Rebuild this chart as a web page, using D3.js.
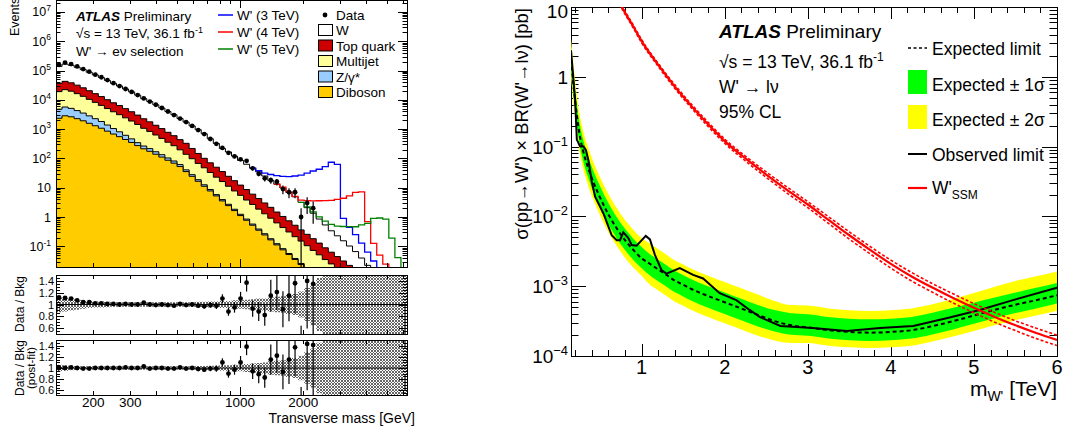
<!DOCTYPE html>
<html>
<head>
<meta charset="utf-8">
<script src="https://cdn.jsdelivr.net/npm/d3@7"></script>
<style>
  body { margin: 0; background: #fff; }
  svg text { font-family: "Liberation Sans", Arial, Helvetica, sans-serif; fill: #000; }
</style>
</head>
<body>
<svg id="chart" width="1067" height="433"></svg>
<script>
// ---- left panel: transverse mass, W' -> e nu selection ----
const binEdges = [133, 142.1, 151.9, 162.3, 173.4, 185.3, 198.0, 211.6, 226.1, 241.6, 258.2, 275.9, 294.8, 315.1, 336.7,
  359.8, 384.5, 410.8, 439.0, 469.1, 501.3, 535.7, 572.4, 611.7, 653.7, 698.5, 746.4, 797.6, 852.4, 910.9, 973.4, 1040,
  1111, 1188, 1269, 1356, 1449, 1549, 1655, 1769, 1890, 2020, 2158, 2306, 2464, 2633, 2814, 3007, 3213, 3434, 3669, 3921,
  4190, 4478, 4785, 5113, 5464, 5839, 6240];

const bkgW = [101700, 123300, 113400, 97260, 81440, 66720, 54580, 44650, 35610, 28390, 23140, 18450, 14710, 11450, 8706,
  6942, 5409, 4209, 3201, 2494, 1853, 1410, 1069, 807, 591, 397, 273.5, 183.3, 141.5, 102.8, 72.8, 54.4, 40.8, 30.4, 22.1,
  15.7, 11.7, 8.72, 6.18, 4.37, 2.80, 1.83, 1.167, 0.722, 0.448, 0.276, 0.184, 0.123, 0.080, 0.0506, 0.0288, 0.0146,
  0.0071, 0.004, 0.002, 0.001, 0.0006, 0.0003];
const bkgTop = [17250, 20430, 18330, 15370, 12540, 10045, 8028, 6428, 5088, 4018, 3254, 2575, 2033, 1572, 1188, 938, 724,
  560, 423, 325, 240, 190, 121, 80.3, 53.0, 37.7, 27.2, 19.3, 13.3, 9.64, 6.8, 4.91, 3.34, 2.41, 1.73, 1.23, 0.848, 0.61,
  0.432, 0.311, 0.212, 0.152, 0.110, 0.0777, 0.0536, 0.038, 0.0273, 0.0193, 0.0139, 0.0095, 0.0068, 0.0049, 0.0035,
  0.002, 0.001, 0.0006, 0.0003, 0.0002];
const bkgMultijet = [14270, 16560, 14580, 11960, 9614, 7543, 5918, 4636, 3647, 2865, 2303, 1813, 1419, 1091, 801, 617, 461,
  347, 253, 190, 135, 97.3, 69.8, 48.8, 35.3, 24.4, 17.1, 12.3, 8.5, 5.92, 4.25, 2.95, 2.12, 1.47, 1.02, 0.73, 0.508,
  0.354, 0.252, 0.175, 0.125, 0.0874, 0.0604, 0.0432, 0.0299, 0.0214, 0.0149, 0.0106, 0.0073, 0.0053, 0.0037, 0.0026,
  0.0018, 0.001, 0.0006, 0.0003, 0.0002, 0.0001];
const bkgZ = [2440, 2826, 2471, 2014, 1607, 1251, 967, 748, 525, 366, 256, 173, 114, 71, 52, 41, 30, 23, 16.8, 12.7, 8.9,
  5.2, 3.4, 2.2, 1.4, 0.95, 0.57, 0.39, 0.27, 0.18, 0.12, 0.075, 0.05, 0.034, 0.024, 0.016, 0.011, 0.0073, 0.0044, 0.003,
  0.002, 0.0014, 0.0008, 0.0005, 0.0003, 0.0002, 0.00015, 0.0001, 0.00007, 0.00005, 0.00003, 0.00002, 0.00001, 0, 0, 0,
  0, 0];
const bkgDiboson = [2344, 2851, 2636, 2270, 1923, 1581, 1303, 1072, 853, 679, 553, 442, 351, 274, 213, 175, 139, 111, 86.7,
  69.0, 52.7, 35.5, 24.5, 16.6, 11.2, 7.76, 5.25, 3.55, 2.45, 1.66, 1.12, 0.776, 0.525, 0.355, 0.245, 0.166, 0.112, 0.0759,
  0.0525, 0.0355, 0.024, 0.0162, 0.0112, 0.0076, 0.0051, 0.0035, 0.0023, 0.0016, 0.0011, 0.0007, 0.0005, 0.0003, 0.0002,
  0.0001, 0.0001, 0.00005, 0.00003, 0.00002];

// W' signals (events on top of the background), first bin index + values
const sig3Start = 33;
const sig3TeV = [3.3, 6.5, 10.4, 12.5, 14.7, 17.1, 20.2, 23.7, 29.5, 35.8, 41.8, 52.0, 73.8, 62.9, 0.74, 0.345, 0.185,
  0.089, 0.041, 0.019, 0.0087, 0.003];
const sig4Start = 37;
const sig4TeV = [0.7, 0.3, 0.2, 0.64, 1.54, 2.20, 2.74, 3.09, 3.38, 3.75, 4.21, 5.15, 6.85, 7.20, 0.67, 0.113, 0.043,
  0.021, 0.0105];
const sig5Start = 41;
const sig5TeV = [0.12, 0.14, 0.16, 0.19, 0.22, 0.26, 0.32, 0.37, 0.40, 0.50, 0.58, 0.88, 0.92, 0.85, 0.19, 0.04, 0.012];

const dataCounts = [155000, 186000, 166000, 138000, 112000, 91000, 72000, 59000, 47000, 37000, 29500, 23400, 18600, 14500,
  11200, 8700, 6800, 5250, 4000, 3020, 2290, 1740, 1290, 930, 680, 460, 316, 229, 155, 117, 93, 83, 46, 30, 21, 18, 16, 9,
  7, 7, 1, 3, 2];
const ratioPre = [1.12, 1.11, 1.10, 1.07, 1.04, 1.04, 1.02, 1.02, 1.01, 1.01, 1.00, 1.01, 1.00, 1.00, 1.03, 1.00, 0.99,
  1.00, 0.99, 0.98, 1.01, 0.99, 1.00, 0.98, 0.97, 0.99, 0.98, 1.10, 0.88, 0.95, 1.10, 1.37, 0.93, 0.88, 0.82, 1.15, 1.21,
  0.92, 1.15, 1.36, 0.32, 1.40, 1.35];
const ratioPost = [1.00, 1.00, 1.01, 1.00, 0.99, 0.99, 1.00, 1.00, 1.00, 1.00, 1.00, 1.01, 1.00, 1.00, 1.03, 0.99, 1.00,
  1.00, 0.99, 0.99, 1.01, 0.99, 1.00, 0.98, 0.97, 0.99, 0.99, 1.10, 0.90, 0.97, 1.10, 1.38, 0.94, 0.89, 0.83, 1.15, 1.22,
  0.93, 1.15, 1.37, 0.33, 1.43, 1.41];
const sysPre = [0.13, 0.12, 0.10, 0.09, 0.07, 0.06, 0.05, 0.05, 0.045, 0.04, 0.04, 0.04, 0.04, 0.04, 0.04, 0.04, 0.04,
  0.04, 0.04, 0.04, 0.04, 0.04, 0.04, 0.045, 0.045, 0.05, 0.05, 0.06, 0.06, 0.07, 0.07, 0.08, 0.09, 0.10, 0.10, 0.12, 0.13,
  0.14, 0.16, 0.18, 0.22, 0.28, 0.35, 0.45, 0.55, 0.6, 0.7, 0.7, 0.7, 0.7, 0.7, 0.7, 0.7, 0.7, 0.7, 0.7, 0.7, 0.7];
const sysPost = [0.06, 0.05, 0.04, 0.035, 0.03, 0.03, 0.03, 0.03, 0.03, 0.03, 0.03, 0.03, 0.03, 0.03, 0.03, 0.03, 0.03,
  0.03, 0.03, 0.03, 0.03, 0.03, 0.03, 0.035, 0.035, 0.04, 0.04, 0.05, 0.05, 0.06, 0.06, 0.07, 0.08, 0.09, 0.10, 0.12, 0.13,
  0.14, 0.16, 0.18, 0.22, 0.28, 0.35, 0.45, 0.55, 0.6, 0.7, 0.7, 0.7, 0.7, 0.7, 0.7, 0.7, 0.7, 0.7, 0.7, 0.7, 0.7];

const massTickLabels = [200, 300, 1000, 2000];
const ratioTickLabels = [0.6, 0.8, 1, 1.2, 1.4];

// ---- right panel: cross-section limits ----
const limMass = [0.15, 0.2, 0.25, 0.3, 0.35, 0.4, 0.5, 0.6, 0.7, 0.8, 0.9, 1.0, 1.1, 1.2, 1.3, 1.4, 1.5, 1.6, 1.8, 2.0,
  2.2, 2.4, 2.6, 2.8, 3.0, 3.25, 3.5, 3.75, 4.0, 4.25, 4.5, 4.75, 5.0, 5.25, 5.5, 5.75, 6.0];
const expLimit = [1.78, 0.447, 0.158, 0.0832, 0.0525, 0.0355, 0.0186, 0.0107, 0.00676, 0.00457, 0.00331, 0.00251, 0.00209,
  0.00174, 0.00145, 0.00120, 0.00105, 0.000912, 0.000724, 0.000589, 0.000479, 0.000389, 0.000316, 0.000275, 0.000257,
  0.000234, 0.000221, 0.000216, 0.000221, 0.000234, 0.000268, 0.000316, 0.000380, 0.000458, 0.000543, 0.000631, 0.000741];
const expMinus2 = [1.00, 0.250, 0.0885, 0.0466, 0.0294, 0.0199, 0.0104, 0.00599, 0.00379, 0.00256, 0.00185, 0.00141,
  0.00105, 0.00087, 0.000725, 0.00060, 0.000525, 0.000456, 0.000362, 0.000295, 0.000240, 0.000195, 0.000167, 0.000154,
  0.000154, 0.000140, 0.000133, 0.000130, 0.000133, 0.000140, 0.000161, 0.000190, 0.000228, 0.000275, 0.000326, 0.000379,
  0.000445];
const expMinus1 = [1.28, 0.322, 0.114, 0.0599, 0.0378, 0.0256, 0.0134, 0.00770, 0.00487, 0.00329, 0.00238, 0.00181,
  0.00142, 0.00118, 0.000986, 0.000816, 0.000714, 0.000620, 0.000492, 0.000401, 0.000326, 0.000265, 0.000224, 0.000201,
  0.000195, 0.000178, 0.000168, 0.000164, 0.000168, 0.000178, 0.000204, 0.000240, 0.000289, 0.000348, 0.000413, 0.000480,
  0.000563];
const expPlus1 = [2.58, 0.648, 0.229, 0.121, 0.0761, 0.0515, 0.0270, 0.0155, 0.00980, 0.00663, 0.00480, 0.00364, 0.00288,
  0.00240, 0.00200, 0.00166, 0.00145, 0.00126, 0.000999, 0.000813, 0.000661, 0.000537, 0.000455, 0.000410, 0.000398,
  0.000363, 0.000343, 0.000335, 0.000343, 0.000363, 0.000415, 0.000490, 0.000580, 0.000690, 0.000810, 0.000947, 0.00111];
const expPlus2 = [3.47, 0.872, 0.308, 0.162, 0.102, 0.0692, 0.0363, 0.0209, 0.0132, 0.00891, 0.00645, 0.00489, 0.00408,
  0.00339, 0.00283, 0.00234, 0.00205, 0.00178, 0.00141, 0.00115, 0.000934, 0.000759, 0.000616, 0.000536, 0.000527,
  0.000480, 0.000453, 0.000443, 0.000453, 0.000480, 0.000550, 0.000655, 0.000800, 0.000985, 0.00119, 0.00139, 0.00163];

const obsMass = [0.15, 0.2, 0.22, 0.26, 0.3, 0.33, 0.36, 0.4, 0.44, 0.54, 0.64, 0.7, 0.74, 0.78, 0.84, 0.88, 0.94, 1.05,
  1.1, 1.16, 1.24, 1.3, 1.46, 1.62, 1.74, 1.94, 2.14, 2.3, 2.42, 2.67, 3.06, 3.47, 3.87, 4.27, 4.67, 5.07, 5.47, 6.0];
const obsLimit = [2.40, 0.468, 0.126, 0.100, 0.100, 0.0891, 0.0631, 0.0316, 0.0191, 0.0110, 0.00537, 0.00457, 0.00457,
  0.00589, 0.00490, 0.00389, 0.00380, 0.00525, 0.00468, 0.00282, 0.00170, 0.00151, 0.00182, 0.00145, 0.00129, 0.000794,
  0.000631, 0.000457, 0.000363, 0.000269, 0.000251, 0.000229, 0.000251, 0.000269, 0.000347, 0.000457, 0.000631, 0.000955];

const ssmMass = [0.7, 0.8, 0.9, 1.0, 1.2, 1.4, 1.6, 1.8, 2.0, 2.25, 2.5, 2.75, 3.0, 3.25, 3.5, 3.75, 4.0, 4.25, 4.5, 4.75,
  5.0, 5.25, 5.5, 5.75, 6.0];
const ssmXsec = [13.5, 8.32, 5.25, 3.24, 1.48, 0.724, 0.380, 0.209, 0.120, 0.0676, 0.0398, 0.0240, 0.0148, 0.00891,
  0.00537, 0.00331, 0.00209, 0.00138, 0.000955, 0.000676, 0.000490, 0.000363, 0.000275, 0.000214, 0.000170];
const ssmRelUnc = [0.05, 0.05, 0.05, 0.05, 0.05, 0.06, 0.06, 0.07, 0.07, 0.08, 0.09, 0.10, 0.10, 0.11, 0.12, 0.12, 0.13,
  0.14, 0.14, 0.15, 0.15, 0.16, 0.16, 0.17, 0.17];
const limTickLabels = [1, 2, 3, 4, 5, 6];

// ================= drawing =================
const svg = d3.select('#chart');
const defs = svg.append('defs');
const addClip = (id, x, y, w, h) => defs.append('clipPath').attr('id', id)
  .append('rect').attr('x', x).attr('y', y).attr('width', w).attr('height', h);
addClip('clipMain', 56, 0, 351, 267);
addClip('clipR1', 56, 275, 351, 59);
addClip('clipR2', 56, 340, 351, 55);
addClip('clipLim', 571, 7, 486, 349);

const hatch = defs.append('pattern').attr('id', 'hatch').attr('patternUnits', 'userSpaceOnUse')
  .attr('width', 3).attr('height', 3);
hatch.append('path').attr('d', 'M0,3L3,0M0,0L3,3').attr('stroke', '#555').attr('stroke-width', 0.9);

const xL = d3.scaleLog().domain([133, 6240]).range([56, 407]);
const yMain = d3.scaleLog().domain([0.0197, 2.55e7]).range([267, 0]);
const yR1 = d3.scaleLinear().domain([0.5, 1.5]).range([334, 275]);
const yR2 = d3.scaleLinear().domain([0.5, 1.5]).range([396, 340]);
const ySafe = v => yMain(Math.max(v, 1e-4));
const nBins = binEdges.length - 1;

const bins = d3.range(nBins).map(i => ({
  Diboson: bkgDiboson[i], Zgamma: bkgZ[i], Multijet: bkgMultijet[i], Top: bkgTop[i], W: bkgW[i]
}));
const layers = d3.stack().keys(['Diboson', 'Zgamma', 'Multijet', 'Top', 'W'])(bins);
const fills = { Diboson: '#ffcc00', Zgamma: '#99ccff', Multijet: '#ffff99', Top: '#cc0000', W: '#ffffff' };

function steps(vals, first) {
  const pts = [];
  vals.forEach((v, k) => {
    const i = k + (first || 0);
    pts.push([binEdges[i], v], [binEdges[i + 1], v]);
  });
  return pts;
}

const gMain = svg.append('g').attr('clip-path', 'url(#clipMain)');
layers.slice().reverse().forEach(layer => {
  gMain.append('path')
    .datum(steps(layer.map(d => d[1])))
    .attr('d', d3.area().x(p => xL(p[0])).y0(268).y1(p => ySafe(p[1])))
    .attr('fill', fills[layer.key]).attr('stroke', '#000').attr('stroke-width', 1);
});

const total = layers[layers.length - 1].map(d => d[1]);
[[sig3Start, sig3TeV, '#0000ff'], [sig4Start, sig4TeV, '#ff0000'], [sig5Start, sig5TeV, '#008000']]
  .forEach(([start, vals, col]) => {
    const sums = [total[start - 1]].concat(vals.map((s, k) => total[start + k] + s));
    gMain.append('path')
      .datum(steps(sums, start - 1))
      .attr('d', d3.line().x(p => xL(p[0])).y(p => ySafe(p[1])))
      .attr('fill', 'none').attr('stroke', col).attr('stroke-width', 1.3);
  });

const binCenter = i => Math.sqrt(binEdges[i] * binEdges[i + 1]);
const gData = svg.append('g').attr('clip-path', 'url(#clipMain)');
gData.selectAll('line').data(dataCounts).join('line')
  .attr('x1', (n, i) => xL(binCenter(i))).attr('x2', (n, i) => xL(binCenter(i)))
  .attr('y1', n => ySafe(n + Math.sqrt(n))).attr('y2', n => ySafe(n - Math.sqrt(n)))
  .attr('stroke', '#000').attr('stroke-width', 1.2);
gData.selectAll('circle').data(dataCounts).join('circle')
  .attr('cx', (n, i) => xL(binCenter(i))).attr('cy', n => yMain(n)).attr('r', 2.4).attr('fill', '#000');

// ratio panels
function ratioPanel(yS, clipId, ratios, sys) {
  const g = svg.append('g').attr('clip-path', `url(#${clipId})`);
  const up = steps(sys.map(s => 1 + s)), dn = steps(sys.map(s => 1 - s));
  g.append('path').datum(up.map((p, k) => [p[0], p[1], dn[k][1]]))
    .attr('d', d3.area().x(p => xL(p[0])).y0(p => yS(p[2])).y1(p => yS(p[1])))
    .attr('fill', 'url(#hatch)');
  g.append('line').attr('x1', 56).attr('x2', 407).attr('y1', yS(1)).attr('y2', yS(1))
    .attr('stroke', '#000').attr('stroke-width', 1.2);
  g.selectAll('line.err').data(ratios).join('line').attr('class', 'err')
    .attr('x1', (r, i) => xL(binCenter(i))).attr('x2', (r, i) => xL(binCenter(i)))
    .attr('y1', (r, i) => yS(r + r / Math.sqrt(dataCounts[i])))
    .attr('y2', (r, i) => yS(r - r / Math.sqrt(dataCounts[i])))
    .attr('stroke', '#000').attr('stroke-width', 1.2);
  g.selectAll('circle').data(ratios).join('circle')
    .attr('cx', (r, i) => xL(binCenter(i))).attr('cy', r => yS(r)).attr('r', 2.4).attr('fill', '#000');
}
ratioPanel(yR1, 'clipR1', ratioPre, sysPre);
ratioPanel(yR2, 'clipR2', ratioPost, sysPost);

// frames and ticks, left panel
const axes = svg.append('g').attr('stroke', '#000').attr('stroke-width', 1).attr('fill', 'none');
const frame = (x0, y0, x1, y1) => axes.append('rect').attr('x', x0 + 0.5).attr('y', y0 + 0.5)
  .attr('width', x1 - x0).attr('height', y1 - y0);
const tick = (x1, y1, x2, y2) => axes.append('line').attr('x1', x1).attr('y1', y1).attr('x2', x2).attr('y2', y2);
frame(56, 0, 407, 267);
frame(56, 275, 407, 334);
frame(56, 340, 407, 395);

yMain.ticks(20).forEach(v => {
  const major = Math.abs(Math.log10(v) - Math.round(Math.log10(v))) < 1e-6;
  const y = Math.round(yMain(v)) + 0.5, len = major ? 9 : 4.5;
  tick(56, y, 56 + len, y); tick(407, y, 407 - len, y);
});
[[0, 267], [275, 334], [340, 395]].forEach(([top, bot]) => {
  xL.ticks().forEach(v => {
    const x = Math.round(xL(v)) + 0.5, len = v === 1000 ? 8 : 4;
    tick(x, bot, x, bot - len); tick(x, top, x, top + len);
  });
});
[[yR1], [yR2]].forEach(([yS]) => {
  d3.range(0.55, 1.5, 0.05).forEach(v => {
    const major = Math.abs(v * 5 - Math.round(v * 5)) < 1e-6;
    const y = Math.round(yS(v)) + 0.5, len = major ? 8 : 4;
    tick(56, y, 56 + len, y); tick(407, y, 407 - len, y);
  });
});

// left panel labels
const txt = (x, y, size, s) => svg.append('text').attr('x', x).attr('y', y).attr('font-size', size).text(s || '');
function powLabel(x, y, size, v, minus, anchor) {
  const k = Math.round(Math.log10(v));
  const t = svg.append('text').attr('x', x).attr('y', y).attr('font-size', size).attr('text-anchor', anchor || 'end');
  if (k === 0) t.text('1');
  else if (k === 1) t.text('10');
  else {
    t.append('tspan').text('10');
    t.append('tspan').attr('dy', -size * 0.42).attr('font-size', size * 0.68).text(k < 0 ? minus + (-k) : k);
  }
}
d3.range(-1, 8).forEach(k => powLabel(51, yMain(Math.pow(10, k)) + 4.5, 12.5, Math.pow(10, k), '-'));
ratioTickLabels.forEach(v => txt(54, yR1(v) + 4, 11, v).attr('text-anchor', 'end'));
ratioTickLabels.forEach(v => txt(54, yR2(v) + 4, 11, v).attr('text-anchor', 'end'));
massTickLabels.forEach(v => txt(xL(v), 407, 13.5, v).attr('text-anchor', 'middle'));
txt(415, 423, 14, 'Transverse mass [GeV]').attr('text-anchor', 'end');
svg.append('text').attr('transform', 'translate(19,36) rotate(-90)').attr('font-size', 12.5).text('Events');
svg.append('text').attr('transform', 'translate(24,304) rotate(-90)').attr('font-size', 12)
  .attr('text-anchor', 'middle').text('Data / Bkg');
svg.append('text').attr('transform', 'translate(24,368) rotate(-90)').attr('font-size', 12)
  .attr('text-anchor', 'middle').text('Data / Bkg');
svg.append('text').attr('transform', 'translate(35,368) rotate(-90)').attr('font-size', 11.5)
  .attr('text-anchor', 'middle').text('(post-fit)');

const atlasL = txt(76, 21, 13.5);
atlasL.append('tspan').attr('font-weight', 'bold').attr('font-style', 'italic').text('ATLAS');
atlasL.append('tspan').text(' Preliminary');
const lumiL = txt(76, 38, 13.5);
lumiL.append('tspan').text('\u221As = 13 TeV, 36.1 fb');
lumiL.append('tspan').attr('dy', -5).attr('font-size', 9).text('-1');
txt(76, 56, 13.5, 'W\' \u2192 e\u03bd selection');

[['W\' (3 TeV)', '#0000ff', 15], ['W\' (4 TeV)', '#ff0000', 32], ['W\' (5 TeV)', '#008000', 49]].forEach(([s, c, y]) => {
  svg.append('line').attr('x1', 218).attr('x2', 233).attr('y1', y).attr('y2', y)
    .attr('stroke', c).attr('stroke-width', 1.5);
  txt(237, y + 5, 13.5, s);
});
svg.append('circle').attr('cx', 325).attr('cy', 15).attr('r', 2.4).attr('fill', '#000');
txt(336, 20, 13.5, 'Data');
[['W', 'W', 30], ['Top quark', 'Top', 45.5], ['Multijet', 'Multijet', 61], ['Z/\u03b3*', 'Zgamma', 76.5],
  ['Diboson', 'Diboson', 92]].forEach(([s, key, y]) => {
  svg.append('rect').attr('x', 318.5).attr('y', y - 5.5).attr('width', 14).attr('height', 11)
    .attr('fill', fills[key]).attr('stroke', '#000').attr('stroke-width', 1);
  txt(336, y + 5, 13.5, s);
});

// ================= right panel =================
const xR = d3.scaleLinear().domain([0.15, 6]).range([571, 1057]);
const yR = d3.scaleLog().domain([1e-4, 10]).range([356, 7]);
const gLim = svg.append('g').attr('clip-path', 'url(#clipLim)');
const band = (lo, hi, col) => gLim.append('path').datum(limMass.map((m, i) => [m, lo[i], hi[i]]))
  .attr('d', d3.area().x(p => xR(p[0])).y0(p => yR(p[1])).y1(p => yR(p[2])).curve(d3.curveMonotoneX))
  .attr('fill', col);
band(expMinus2, expPlus2, '#ffff00');
band(expMinus1, expPlus1, '#00ff00');
const limLine = d3.line().x(p => xR(p[0])).y(p => yR(p[1]));
gLim.append('path').datum(limMass.map((m, i) => [m, expLimit[i]]))
  .attr('d', limLine.curve(d3.curveMonotoneX)).attr('fill', 'none').attr('stroke', '#000')
  .attr('stroke-width', 2).attr('stroke-dasharray', '4,3');
gLim.append('path').datum(obsMass.map((m, i) => [m, obsLimit[i]]))
  .attr('d', d3.line().x(p => xR(p[0])).y(p => yR(p[1]))).attr('fill', 'none').attr('stroke', '#000')
  .attr('stroke-width', 2);
[-1, 1].forEach(sgn => {
  gLim.append('path').datum(ssmMass.map((m, i) => [m, ssmXsec[i] * (1 + sgn * ssmRelUnc[i])]))
    .attr('d', d3.line().x(p => xR(p[0])).y(p => yR(p[1])).curve(d3.curveMonotoneX))
    .attr('fill', 'none').attr('stroke', '#ff0000').attr('stroke-width', 1.6).attr('stroke-dasharray', '3,2');
});
gLim.append('path').datum(ssmMass.map((m, i) => [m, ssmXsec[i]]))
  .attr('d', d3.line().x(p => xR(p[0])).y(p => yR(p[1])).curve(d3.curveMonotoneX))
  .attr('fill', 'none').attr('stroke', '#ff0000').attr('stroke-width', 2.2);

frame(571, 7, 1057, 356);
yR.ticks().forEach(v => {
  const major = Math.abs(Math.log10(v) - Math.round(Math.log10(v))) < 1e-6;
  const y = Math.round(yR(v)) + 0.5, len = major ? 15 : 7.5;
  tick(571, y, 571 + len, y); tick(1057, y, 1057 - len, y);
});
d3.range(0.2, 6.01, 0.2).forEach(v => {
  const major = Math.abs(v - Math.round(v)) < 1e-6;
  const x = Math.round(xR(v)) + 0.5, len = major ? 12 : 6;
  tick(x, 356, x, 356 - len); tick(x, 7, x, 7 + len);
});
d3.range(-4, 2).forEach(k => powLabel(568, Math.max(yR(Math.pow(10, k)) + 7, 18), 19, Math.pow(10, k), '\u2212'));
limTickLabels.forEach(v => txt(xR(v), 374, 20, v).attr('text-anchor', 'middle'));
const xlab = txt(1057, 396, 21).attr('text-anchor', 'end');
xlab.append('tspan').text('m');
xlab.append('tspan').attr('dy', 5).attr('font-size', 14).text('W\'');
xlab.append('tspan').attr('dy', -5).text(' [TeV]');
svg.append('text').attr('transform', 'translate(528,8) rotate(-90)').attr('font-size', 18.5)
  .attr('text-anchor', 'end').text('\u03c3(pp\u2192W\') \u00d7 BR(W\'\u2192l\u03bd) [pb]');

const atlasR = txt(719, 38, 19);
atlasR.append('tspan').attr('font-weight', 'bold').attr('font-style', 'italic').text('ATLAS');
atlasR.append('tspan').text(' Preliminary');
const lumiR = txt(719, 68, 17.5);
lumiR.append('tspan').text('\u221As = 13 TeV, 36.1 fb');
lumiR.append('tspan').attr('dy', -7).attr('font-size', 12).text('-1');
txt(719, 93, 17.5, 'W\' \u2192 l\u03bd');
txt(719, 118, 17.5, '95% CL');

svg.append('line').attr('x1', 908).attr('x2', 927).attr('y1', 48).attr('y2', 48)
  .attr('stroke', '#000').attr('stroke-width', 1.5).attr('stroke-dasharray', '3,2.5');
txt(932, 55, 17.5, 'Expected limit');
svg.append('rect').attr('x', 908).attr('y', 70).attr('width', 19).attr('height', 24).attr('fill', '#00ff00');
txt(932, 91, 17.5, 'Expected \u00b1 1\u03c3');
svg.append('rect').attr('x', 908).attr('y', 105).attr('width', 19).attr('height', 24).attr('fill', '#ffff00');
txt(932, 126, 17.5, 'Expected \u00b1 2\u03c3');
svg.append('line').attr('x1', 908).attr('x2', 927).attr('y1', 154).attr('y2', 154)
  .attr('stroke', '#000').attr('stroke-width', 2);
txt(932, 161, 17.5, 'Observed limit');
svg.append('line').attr('x1', 908).attr('x2', 927).attr('y1', 188).attr('y2', 188)
  .attr('stroke', '#ff0000').attr('stroke-width', 2.2);
const ssmLab = txt(932, 194, 17.5);
ssmLab.append('tspan').text('W\'');
ssmLab.append('tspan').attr('dy', 5).attr('font-size', 12).text('SSM');
</script>
</body>
</html>
